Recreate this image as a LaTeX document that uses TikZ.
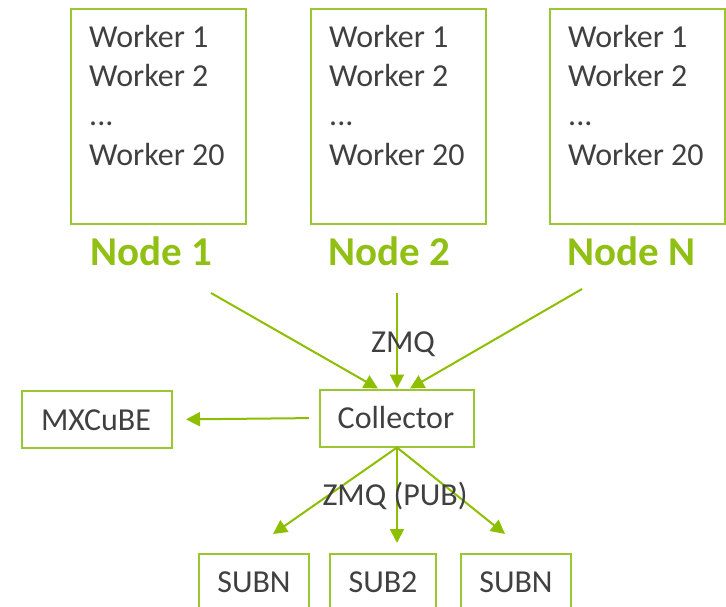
\documentclass[tikz,border=0pt]{standalone}
\usepackage{fontspec}
\setmainfont{Carlito}
\usetikzlibrary{arrows.meta,calc}
\definecolor{boxgreen}{RGB}{155,198,50}
\definecolor{arrgreen}{RGB}{141,190,0}
\definecolor{lblgreen}{RGB}{145,192,20}
\definecolor{txtgray}{RGB}{64,64,64}
\begin{document}
\begin{tikzpicture}[x=1pt,y=-1pt,
  box/.style={draw=boxgreen, line width=2pt, inner sep=0pt},
  txt/.style={text=txtgray, font=\fontsize{32}{38}\selectfont, inner sep=0pt},
  worker/.style={txt, anchor=base west},
  nodelbl/.style={text=lblgreen, font=\fontsize{41}{46}\selectfont\bfseries,
    inner sep=0pt, anchor=base west},
  link/.style={draw=arrgreen, line width=2pt,
    -{Triangle[length=14pt,width=14pt]}}]
\clip (0,0) rectangle (726,606);

% compute nodes with their worker lists
\node[box, minimum width=175, minimum height=215, anchor=north west] (n1) at (70,8) {};
\node[box, minimum width=175, minimum height=215, anchor=north west] (n2) at (310,8) {};
\node[box, minimum width=175, minimum height=215, anchor=north west] (nn) at (549,8) {};
\foreach \x/\k in {89/1, 329/2, 568/n} {
  \node[worker] (w\k a) at (\x,47) {Worker 1};
  \node[worker] (w\k b) at (\x,86) {Worker 2};
  \node[worker] (w\k c) at (\x,125) {...};
  \node[worker] (w\k d) at (\x,165) {Worker 20};
}
\node[nodelbl] (l1) at (90,265) {Node 1};
\node[nodelbl] (l2) at (328,265) {Node 2};
\node[nodelbl] (ln) at (567,265) {Node N};

% collector and consumers
\node[box, minimum width=154, minimum height=57] (coll) at (397,418) {};
\node[txt, anchor=base] (colltxt) at (396,428) {Collector};
\node[box, minimum width=150, minimum height=57] (mx) at (97,419.5) {};
\node[txt, anchor=base] (mxtxt) at (96,430) {MXCuBE};

\node[box, minimum width=110, minimum height=80, anchor=north] (s1) at (254,553) {};
\node[box, minimum width=106, minimum height=80, anchor=north] (s2) at (383,553) {};
\node[box, minimum width=110, minimum height=80, anchor=north] (s3) at (516,553) {};
\node[txt, anchor=base] (s1t) at (254,592) {SUBN};
\node[txt, anchor=base] (s2t) at (383,592) {SUB2};
\node[txt, anchor=base] (s3t) at (516,592) {SUBN};

% arrows into the collector
\coordinate (a1) at (211,293);
\coordinate (a2) at (397,293);
\coordinate (an) at (582,289);
\draw[link] (a1) -- ($(coll.north)+(-19,0)$);
\draw[link] (a2) -- (coll.north);
\draw[link] (an) -- ($(coll.north)+(13,0)$);
\node[txt, anchor=base] (zmq) at (403,352) {ZMQ};

% collector to MXCuBE
\draw[link, shorten <=10pt, shorten >=13pt] (coll.west) -- (mx.east);

% publishing to subscribers
\coordinate (p1) at (273,534);
\coordinate (p2) at (397,543);
\coordinate (p3) at (505,534);
\draw[link] (coll.south) -- (p1);
\draw[link] (coll.south) -- (p2);
\draw[link] (coll.south) -- (p3);
\node[txt, anchor=base] (pub) at (395,505) {ZMQ (PUB)};
\end{tikzpicture}
\end{document}
